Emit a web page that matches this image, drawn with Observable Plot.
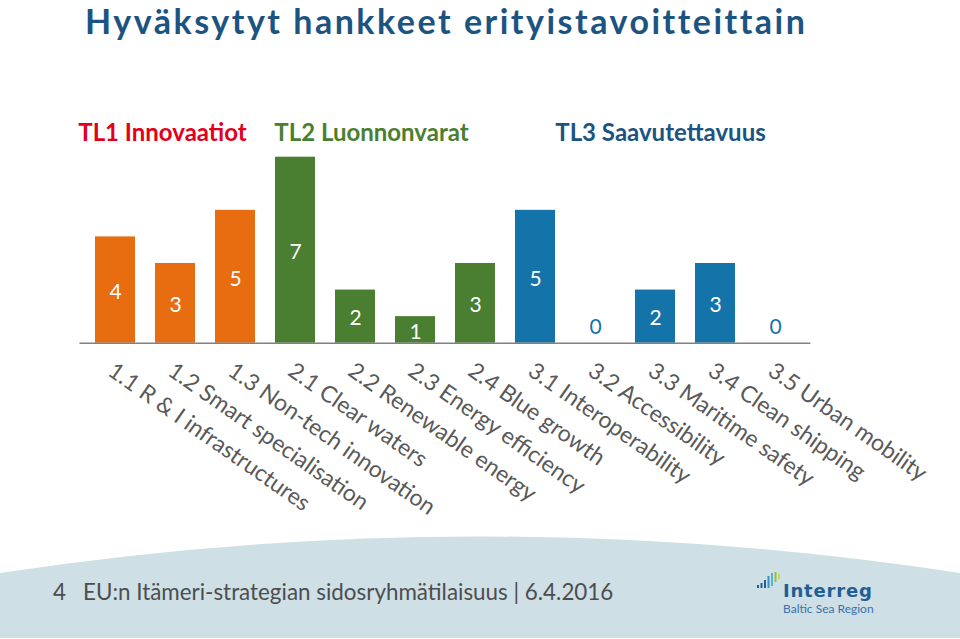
<!DOCTYPE html>
<html><head><meta charset="utf-8">
<script src="https://cdn.jsdelivr.net/npm/d3@7"></script>
<script src="https://cdn.jsdelivr.net/npm/@observablehq/plot@0.6"></script>
<style>
body{margin:0;background:#fff;}
#page{position:relative;width:960px;height:639px;overflow:hidden;font-family:Lato,"Open Sans",sans-serif;}
#title{position:absolute;left:0;top:0;}
#chart{position:absolute;left:0;top:100px;}
#footer{position:absolute;left:0;top:530px;}
</style></head><body>
<div id="page">
<svg id="title" width="960" height="50" font-family="Lato, 'Open Sans', sans-serif">
  <text x="85" y="33.5" font-size="34" font-weight="700" letter-spacing="2.5" fill="#1B5482">Hyväksytyt hankkeet erityistavoitteittain</text>
</svg>
<div id="chart"></div>
<svg id="footer" width="960" height="109" font-family="Lato, 'Open Sans', sans-serif">
  <path d="M0,43 Q480,-30 960,43 L960,108 L0,108 Z" fill="#CFDFE6"/>
  <text x="53" y="70" font-size="22.4" fill="#4D4D4D">4</text>
  <text x="83" y="70" font-size="22.4" fill="#4D4D4D">EU:n Itämeri-strategian sidosryhmätilaisuus | 6.4.2016</text>
  <g>
    <rect x="757" y="55" width="2" height="3" fill="#1F5F94"/>
    <rect x="760.5" y="53" width="2" height="5" fill="#1F5F94"/>
    <rect x="764" y="50" width="2" height="8" fill="#1F5F94"/>
    <rect x="767.5" y="46" width="2" height="12" fill="#3A8FC6"/>
    <rect x="771" y="43" width="2" height="13" fill="#5BB0D8"/>
    <rect x="774.5" y="42" width="2" height="10" fill="#8CC63F"/>
    <rect x="778" y="44" width="2" height="5" fill="#C8D84A"/>
  </g>
  <text x="783" y="67" font-size="18" font-weight="700" letter-spacing="0.8" font-family="'DejaVu Sans', sans-serif" fill="#1F5F94">Interreg</text>
  <text x="783" y="83" font-size="12" fill="#3A72A8">Baltic Sea Region</text>
</svg>
</div>
<script>
const categories = [
  "1.1 R & I infrastructures",
  "1.2 Smart specialisation",
  "1.3 Non-tech innovation",
  "2.1 Clear waters",
  "2.2 Renewable energy",
  "2.3 Energy efficiency",
  "2.4 Blue growth",
  "3.1 Interoperability",
  "3.2 Accessibility",
  "3.3 Maritime safety",
  "3.4 Clean shipping",
  "3.5 Urban mobility"
];
const values = [4, 3, 5, 7, 2, 1, 3, 5, 0, 2, 3, 0];
const groupOf = ["TL1", "TL1", "TL1", "TL2", "TL2", "TL2", "TL2", "TL3", "TL3", "TL3", "TL3", "TL3"];
const groupKeys = ["TL1", "TL2", "TL3"];
const groupLabels = ["TL1 Innovaatiot", "TL2 Luonnonvarat", "TL3 Saavutettavuus"];
const groupCenterCategory = ["1.2 Smart specialisation", "2.2 Renewable energy", "3.3 Maritime safety"];

const barColors = ["#E86C10", "#4A7E30", "#1473A8"];
const labelColors = ["#E2001A", "#4A7E30", "#1B5482"];
const labelDx = [-13, 16, 5];

const data = categories.map((c, i) => ({category: c, value: values[i], group: groupOf[i]}));
const font = "Lato, 'Open Sans', sans-serif";

const chart = Plot.plot({
  width: 960,
  height: 430,
  marginLeft: 79.5,
  marginRight: 149.7,
  marginTop: 56.7,
  marginBottom: 187.3,
  x: {domain: categories, paddingInner: 0.335, paddingOuter: 0.1675, axis: null},
  y: {domain: [0, 7], axis: null},
  color: {domain: groupKeys, range: barColors},
  style: {fontFamily: font, overflow: "visible", background: "transparent"},
  marks: [
    Plot.barY(data, {x: "category", y: "value", fill: "group"}),
    Plot.ruleY([0], {stroke: "#808080", strokeWidth: 1.5}),
    Plot.text(data.filter(d => d.value > 0), {
      x: "category", y: d => d.value / 2, text: d => String(d.value),
      fill: "white", fontSize: 21, dy: 2
    }),
    Plot.text(data.filter(d => d.value === 0), {
      x: "category", y: "value", text: d => String(d.value),
      fill: "group", fontSize: 21, dy: -16
    }),
    Plot.text(data, {
      x: "category", frameAnchor: "bottom", text: "category",
      rotate: 35, textAnchor: "start", lineAnchor: "bottom", dx: -9, dy: 31,
      fill: "#595959", fontSize: 23
    }),
    ...groupKeys.map((g, i) => Plot.text([{label: groupLabels[i], cat: groupCenterCategory[i]}], {
      x: "cat", frameAnchor: "top", lineAnchor: "middle", text: "label", dy: -23.7, dx: labelDx[i],
      fill: labelColors[i], fontSize: 24, fontWeight: "bold"
    }))
  ]
});
document.getElementById("chart").appendChild(chart);
</script>
</body></html>
